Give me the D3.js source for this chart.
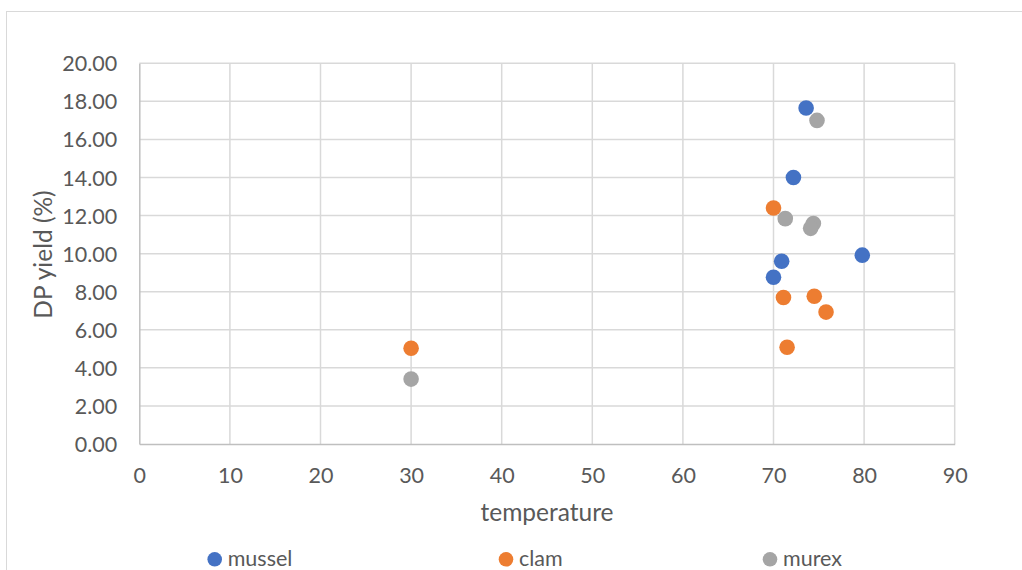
<!DOCTYPE html>
<html>
<head>
<meta charset="utf-8">
<script src="https://cdn.jsdelivr.net/npm/d3@7"></script>
<style>
  html, body { margin: 0; padding: 0; background: #fff; }
  svg { display: block; }
  text { font-family: Lato, "Open Sans", sans-serif; fill: #595959; }
</style>
</head>
<body>
<svg id="chart" width="1022" height="570"></svg>
<script>
// Series: [temperature, DP yield %]
const mussel = [[73.6, 17.65], [72.2, 14.0], [79.8, 9.92], [70.9, 9.6], [70.0, 8.76]];
const clam = [[30, 5.03], [70.0, 12.4], [71.1, 7.7], [74.5, 7.76], [75.8, 6.93], [71.5, 5.08]];
const murex = [[30, 3.41], [74.8, 17.0], [71.3, 11.84], [74.4, 11.58], [74.1, 11.33]];

const seriesNames = ["mussel", "clam", "murex"];
const seriesColors = ["#4472C4", "#ED7D31", "#A5A5A5"];
const xTicks = [0, 10, 20, 30, 40, 50, 60, 70, 80, 90];
const yTicks = [0, 2, 4, 6, 8, 10, 12, 14, 16, 18, 20];

const svg = d3.select("#chart");
const plot = { left: 139.3, right: 954.7, top: 63.3, bottom: 444 };

const x = d3.scaleLinear().domain([0, 90]).range([plot.left, plot.right]);
const y = d3.scaleLinear().domain([0, 20]).range([plot.bottom, plot.top]);

// Chart frame
svg.append("rect")
  .attr("x", 6.5).attr("y", 11.5)
  .attr("width", 1040).attr("height", 600)
  .attr("fill", "none").attr("stroke", "#d9d9d9").attr("stroke-width", 1);

// Gridlines
const grid = svg.append("g");
grid.selectAll("line.h").data(yTicks.filter(d => d > 0)).join("line")
  .attr("x1", plot.left).attr("x2", plot.right)
  .attr("y1", d => y(d)).attr("y2", d => y(d))
  .attr("stroke", "#d9d9d9").attr("stroke-width", 1.5);
grid.selectAll("line.v").data(xTicks.filter(d => d > 0)).join("line")
  .attr("y1", plot.top).attr("y2", plot.bottom)
  .attr("x1", d => x(d)).attr("x2", d => x(d))
  .attr("stroke", "#d9d9d9").attr("stroke-width", 1.5);

// Axes
const xAxis = svg.append("g")
  .attr("transform", `translate(0,${plot.bottom})`)
  .call(d3.axisBottom(x).tickValues(xTicks).tickSize(0).tickPadding(0).tickFormat(d3.format("d")));
xAxis.select(".domain").attr("stroke", "#bfbfbf").attr("stroke-width", 1.5);
xAxis.selectAll("text").attr("dy", null).attr("y", 39).style("font-size", "21.5px").style("fill", "#595959");

const yAxis = svg.append("g")
  .attr("transform", `translate(${plot.left},0)`)
  .call(d3.axisLeft(y).tickValues(yTicks).tickSize(0).tickPadding(0).tickFormat(d3.format(".2f")));
yAxis.select(".domain").attr("stroke", "#bfbfbf").attr("stroke-width", 1.5);
yAxis.selectAll("text").attr("x", -22).attr("dy", "0.35em").style("font-size", "21.5px").style("fill", "#595959");

// Axis titles
svg.append("text")
  .attr("x", (plot.left + plot.right) / 2).attr("y", 521)
  .attr("text-anchor", "middle").style("font-size", "24.5px")
  .text("temperature");
svg.append("text")
  .attr("transform", `translate(52,254.5) rotate(-90)`)
  .attr("text-anchor", "middle").style("font-size", "24.5px")
  .text("DP yield (%)");

// Points
const allSeries = [mussel, clam, murex];
allSeries.forEach((data, i) => {
  svg.append("g").selectAll("circle").data(data).join("circle")
    .attr("cx", d => x(d[0])).attr("cy", d => y(d[1]))
    .attr("r", 7.8).attr("fill", seriesColors[i]);
});

// Legend
const legendX = [214.7, 506, 770];
const legend = svg.append("g");
seriesNames.forEach((name, i) => {
  legend.append("circle").attr("cx", legendX[i]).attr("cy", 559.3).attr("r", 7.3).attr("fill", seriesColors[i]);
  legend.append("text").attr("x", legendX[i] + 13).attr("y", 566).style("font-size", "21.5px").text(name);
});
</script>
</body>
</html>
